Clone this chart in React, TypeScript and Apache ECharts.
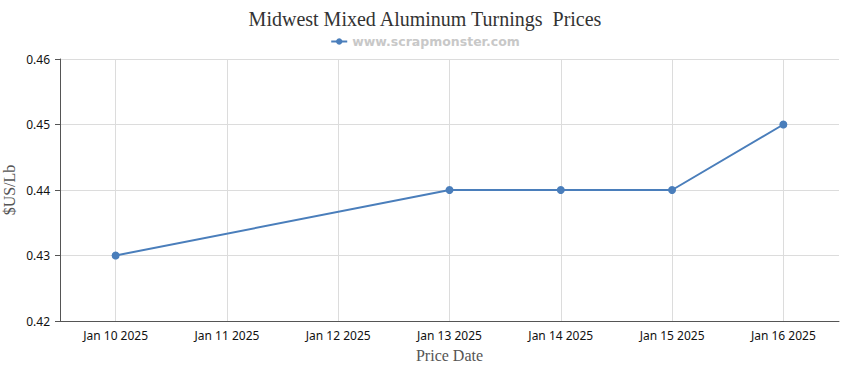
import React, { useEffect, useRef } from "react";
import * as echarts from "echarts";

const categories = ["Jan 10 2025", "Jan 11 2025", "Jan 12 2025", "Jan 13 2025", "Jan 14 2025", "Jan 15 2025", "Jan 16 2025"];
const prices: (number | null)[] = [0.43, null, null, 0.44, 0.44, 0.44, 0.45];
const seriesName = "www.scrapmonster.com";
const titleText = "Midwest Mixed Aluminum Turnings  Prices";
const yMin = 0.42;
const yMax = 0.46;
const yStep = 0.01;

export default function App() {
  const ref = useRef<HTMLDivElement>(null);
  useEffect(() => {
    if (!ref.current) return;
    const chart = echarts.init(ref.current, undefined, { renderer: "svg" });
    chart.setOption({
      animation: false,
      title: {
        text: titleText,
        left: "center",
        top: 4,
        textStyle: { fontFamily: "Liberation Serif", fontSize: 20, fontWeight: "normal", color: "#333" },
      },
      legend: {
        top: 30,
        left: "center",
        itemWidth: 16,
        itemHeight: 8,
        itemGap: 5,
        data: [seriesName],
        textStyle: { fontFamily: "DejaVu Sans", fontSize: 12.5, fontWeight: "bold", color: "#c8c8c8" },
      },
      grid: { left: 60, right: 11, top: 59, bottom: 49, containLabel: false, outerBoundsMode: "none" },
      xAxis: {
        type: "category",
        data: categories,
        boundaryGap: true,
        name: "Price Date",
        nameLocation: "middle",
        nameGap: 26,
        nameMoveOverlap: false,
        nameTextStyle: { fontFamily: "Liberation Serif", fontSize: 16, color: "#555" },
        axisLine: { lineStyle: { color: "#555", width: 1 } },
        axisTick: { alignWithLabel: true, length: 5, lineStyle: { color: "#555" } },
        axisLabel: { fontFamily: "Noto Sans", fontSize: 12, color: "#111", margin: 8 },
        splitLine: { show: true, alignWithLabel: true, lineStyle: { color: "#dcdcdc", width: 1 } },
      },
      yAxis: {
        type: "value",
        min: yMin,
        max: yMax,
        interval: yStep,
        name: "$US/Lb",
        nameLocation: "middle",
        nameGap: 43,
        nameMoveOverlap: false,
        nameTextStyle: { fontFamily: "Liberation Serif", fontSize: 16, color: "#555" },
        axisLine: { show: true, lineStyle: { color: "#555", width: 1 } },
        axisTick: { show: true, length: 5, lineStyle: { color: "#555" } },
        axisLabel: {
          fontFamily: "Noto Sans",
          fontSize: 12,
          color: "#111",
          margin: 10,
          formatter: (v: number) => v.toFixed(2),
        },
        splitLine: { show: true, lineStyle: { color: "#dcdcdc", width: 1 } },
      },
      series: [
        {
          name: seriesName,
          type: "line",
          data: prices,
          connectNulls: true,
          symbol: "circle",
          symbolSize: 8,
          itemStyle: { color: "#4a7ebb" },
          lineStyle: { color: "#4a7ebb", width: 2 },
        },
      ],
    });
    return () => chart.dispose();
  }, []);
  return <div ref={ref} style={{ width: 850, height: 370, position: "absolute", left: 0, top: 0 }} />;
}
